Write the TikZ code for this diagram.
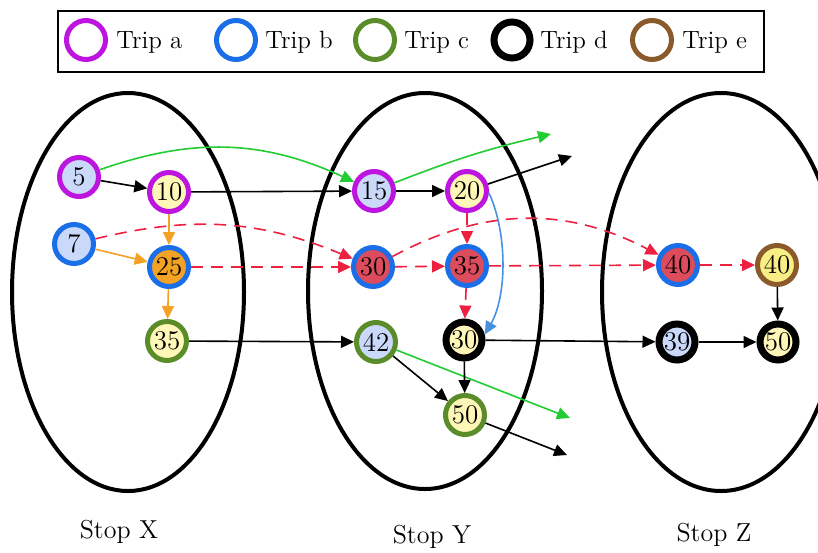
\documentclass[tikz,border=0pt]{standalone}
\usetikzlibrary{arrows.meta}

\definecolor{tripa}{HTML}{BE14E0}
\definecolor{tripb}{HTML}{1A6EE8}
\definecolor{tripc}{HTML}{5B8C2A}
\definecolor{tripe}{HTML}{8B5A2B}
\definecolor{paleblue}{HTML}{CAD8FA}
\definecolor{paleyellow}{HTML}{FFF7B8}
\definecolor{deepyellow}{HTML}{F8EE85}
\definecolor{orangefill}{HTML}{F4A223}
\definecolor{redfill}{HTML}{DC4C5C}
\definecolor{linkgreen}{HTML}{22CC33}
\definecolor{linkred}{HTML}{EE2040}
\definecolor{linkorange}{HTML}{F4A223}
\definecolor{linkblue}{HTML}{4A90E2}

\begin{document}
\begin{tikzpicture}[x=0.5pt,y=-0.5pt]
  \tikzset{
    tripnode/.style={
      circle,
      line width=2.5pt,
      minimum size=19.5pt,
      inner sep=0pt,
      font=\fontsize{13.5}{13.5}\selectfont,
      text centered
    },
    darknode/.style={
      tripnode,
      draw=black,
      line width=3.5pt,
      minimum size=18pt
    },
    link/.style={
      -{Triangle[length=6.5pt,width=6pt]},
      line width=0.8pt
    },
    redlink/.style={
      link,
      draw=linkred,
      dash pattern=on 6pt off 4pt
    },
    stoplabel/.style={
      anchor=base,
      font=\fontsize{13}{13}\selectfont
    },
    legendtext/.style={
      anchor=base west,
      inner sep=0pt,
      font=\fontsize{12.5}{12.5}\selectfont
    }
  }

  \useasboundingbox (0,0) rectangle (818,552);

  % legend
  \draw[line width=1pt] (58,11) rectangle (764,72);
  \node[tripnode, draw=tripa] (La) at (86,40) {};
  \node[tripnode, draw=tripb] (Lb) at (236,40) {};
  \node[tripnode, draw=tripc] (Lc) at (375,40) {};
  \node[darknode] (Ld) at (512,40) {};
  \node[tripnode, draw=tripe] (Le) at (652,40) {};
  \node[legendtext] (Ta) at (116,48) {Trip a};
  \node[legendtext] (Tb) at (265,48) {Trip b};
  \node[legendtext] (Tc) at (404,48) {Trip c};
  \node[legendtext] (Td) at (540,48) {Trip d};
  \node[legendtext] (Te) at (682,48) {Trip e};

  % stops
  \draw[line width=2pt] (128,292) ellipse [x radius=116, y radius=199];
  \draw[line width=2pt] (425,291) ellipse [x radius=117, y radius=198];
  \draw[line width=2pt] (721,292) ellipse [x radius=119, y radius=199];
  \node[stoplabel] (SX) at (119,538) {Stop X};
  \node[stoplabel] (SY) at (432,543) {Stop Y};
  \node[stoplabel] (SZ) at (714,541) {Stop Z};

  % stop X
  \node[tripnode, draw=tripa, fill=paleblue] (X5) at (79,177) {5};
  \node[tripnode, draw=tripa, fill=paleyellow] (X10) at (169,192) {10};
  \node[tripnode, draw=tripb, fill=paleblue] (X7) at (74,244) {7};
  \node[tripnode, draw=tripb, fill=orangefill] (X25) at (169,267) {25};
  \node[tripnode, draw=tripc, fill=paleyellow] (X35) at (167,341) {35};

  % stop Y
  \node[tripnode, draw=tripa, fill=paleblue] (Y15) at (374,191) {15};
  \node[tripnode, draw=tripa, fill=paleyellow] (Y20) at (467,191) {20};
  \node[tripnode, draw=tripb, fill=redfill] (Y30) at (373,267) {30};
  \node[tripnode, draw=tripb, fill=redfill] (Y35) at (467,266) {35};
  \node[tripnode, draw=tripc, fill=paleblue] (Y42) at (376,342) {42};
  \node[darknode, fill=paleyellow] (Y30d) at (464,340) {30};
  \node[tripnode, draw=tripc, fill=paleyellow] (Y50) at (465,415) {50};

  % stop Z
  \node[tripnode, draw=tripb, fill=redfill] (Z40) at (678,265) {40};
  \node[tripnode, draw=tripe, fill=deepyellow] (Z40e) at (777,265) {40};
  \node[darknode, fill=paleblue] (Z39) at (677,342) {39};
  \node[darknode, fill=paleyellow] (Z50) at (778,342) {50};

  % loose ends
  \coordinate (G1) at (551,134);
  \coordinate (B1) at (572,156);
  \coordinate (G2) at (570,418);
  \coordinate (B2) at (567,455);

  % trip a
  \draw[link] (X5) -- (X10);
  \draw[link, draw=linkgreen] (X5) to[bend left=22] (Y15);
  \draw[link] (X10) -- (Y15);
  \draw[link] (Y15) -- (Y20);
  \draw[link, draw=linkgreen] (Y15) to[bend left=4] (G1);
  \draw[link] (Y20) -- (B1);
  \draw[link, draw=linkblue] (Y20.-5) to[out=-65, in=60, looseness=0.8] (Y30d.15);

  % trip b
  \draw[link, draw=linkorange] (X10) -- (X25);
  \draw[link, draw=linkorange] (X7) -- (X25);
  \draw[link, draw=linkorange] (X25) -- (X35);
  \draw[redlink] (X7) to[bend left=18] (Y30);
  \draw[redlink] (X25) -- (Y30);
  \draw[redlink] (Y20) -- (Y35);
  \draw[redlink] (Y30) -- (Y35);
  \draw[redlink] (Y30) to[bend left=28] (Z40);
  \draw[redlink] (Y35) -- (Z40);
  \draw[redlink] (Y35) -- (Y30d);
  \draw[redlink] (Z40) -- (Z40e);

  % trip c and d
  \draw[link] (X35) -- (Y42);
  \draw[link] (Y42) -- (Y50);
  \draw[link, draw=linkgreen] (Y42) -- (G2);
  \draw[link] (Y30d) -- (Y50);
  \draw[link] (Y50) -- (B2);
  \draw[link] (Y30d) -- (Z39);
  \draw[link] (Z39) -- (Z50);
  \draw[link] (Z40e) -- (Z50);
\end{tikzpicture}
\end{document}
